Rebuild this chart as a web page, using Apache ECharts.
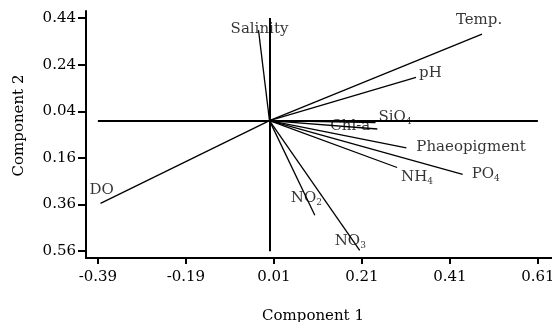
<!DOCTYPE html>
<html><head><meta charset="utf-8">
<script src="https://cdn.jsdelivr.net/npm/echarts@6/dist/echarts.min.js"></script>
<style>html,body{margin:0;padding:0;background:#fff}#c{width:552px;height:322px}</style>
</head><body><div id="c"></div>
<script>
// ---- data ----
const variables = ['Temp.', 'pH', 'SiO4', 'Chl-a', 'Phaeopigment', 'NH4', 'PO4', 'NO2', 'NO3', 'DO', 'Salinity'];
const comp1 = [0.483, 0.333, 0.241, 0.245, 0.311, 0.290, 0.439, 0.103, 0.205, -0.384, -0.025];
const comp2 = [0.371, 0.185, -0.009, -0.036, -0.117, -0.201, -0.230, -0.406, -0.556, -0.355, 0.388];
const xTicks = [-0.39, -0.19, 0.01, 0.21, 0.41, 0.61];
const yTicks = [-0.56, -0.36, -0.16, 0.04, 0.24, 0.44];
const xName = 'Component 1';
const yName = 'Component 2';

// ---- label placement (style only, pixels) ----
const labelPlace = {
  'Temp.': ['center', -3, -14],
  'pH': ['left', 3, -4],
  'SiO4': ['left', 3, -6],
  'Chl-a': ['right', -7, -3],
  'Phaeopigment': ['left', 10, -1],
  'NH4': ['left', 4, 10],
  'PO4': ['left', 9, 0],
  'NO2': ['left', -24, -17],
  'NO3': ['left', -25, -9],
  'DO': ['left', -11, -13],
  'Salinity': ['center', 1, -1]
};

const FONT = '"DejaVu Serif", "Liberation Serif", serif';
const FS = 15;

const vectorLines = variables.map((n, i) => ({ coords: [[0, 0], [comp1[i], comp2[i]]] }));
const crossLines = [
  { coords: [[xTicks[0], 0], [xTicks[xTicks.length - 1], 0]] },
  { coords: [[0, yTicks[0]], [0, yTicks[yTicks.length - 1]]] }
];
const labelPoints = variables.map((n, i) => {
  const p = labelPlace[n];
  return {
    name: n,
    value: [comp1[i], comp2[i]],
    label: { align: p[0], offset: [p[1], p[2]] }
  };
});

const chart = echarts.init(document.getElementById('c'), null, { renderer: 'canvas' });
chart.setOption({
  animation: false,
  backgroundColor: '#fff',
  grid: { left: 86, top: 11, right: 0, bottom: 64, containLabel: false, outerBoundsMode: 'none' },
  xAxis: {
    type: 'value', min: -0.417, max: 0.642,
    splitLine: { show: false },
    axisLine: { onZero: false, lineStyle: { color: '#000', width: 2 } },
    axisTick: { customValues: xTicks, length: 6, lineStyle: { color: '#000', width: 2 } },
    axisLabel: { customValues: xTicks, formatter: v => v.toFixed(2), margin: 12,
      color: '#000', fontFamily: FONT, fontSize: FS, hideOverlap: false }
  },
  yAxis: {
    type: 'value', min: -0.589, max: 0.47,
    splitLine: { show: false },
    axisLine: { onZero: false, lineStyle: { color: '#000', width: 2 } },
    axisTick: { customValues: yTicks, length: 8, lineStyle: { color: '#000', width: 2 } },
    axisLabel: { customValues: yTicks, formatter: v => Math.abs(v).toFixed(2), margin: 10,
      color: '#000', fontFamily: FONT, fontSize: FS }
  },
  series: [
    {
      type: 'lines', coordinateSystem: 'cartesian2d', silent: true,
      lineStyle: { color: '#000', width: 2, opacity: 1 },
      data: crossLines
    },
    {
      type: 'lines', coordinateSystem: 'cartesian2d', silent: true,
      lineStyle: { color: '#000', width: 1.3, opacity: 1 },
      data: vectorLines
    },
    {
      type: 'scatter', symbolSize: 1, itemStyle: { color: 'rgba(0,0,0,0)' }, silent: true,
      label: {
        show: true, position: 'inside', verticalAlign: 'middle',
        color: '#000', fontFamily: FONT, fontSize: FS, lineHeight: 18,
        formatter: p => p.name.replace(/(\d)$/, '{s|$1}'),
        rich: { s: { fontFamily: FONT, fontSize: 9, lineHeight: 10, verticalAlign: 'bottom', color: '#000' } }
      },
      data: labelPoints
    }
  ],
  graphic: [
    { type: 'text', x: 313, y: 316, silent: true,
      style: { text: xName, textAlign: 'center', textVerticalAlign: 'middle', fill: '#000',
        font: FS + 'px ' + FONT } },
    { type: 'text', x: 19.5, y: 125.5, rotation: Math.PI / 2, silent: true,
      style: { text: yName, textAlign: 'center', textVerticalAlign: 'middle', fill: '#000',
        font: FS + 'px ' + FONT } }
  ]
});
</script>
</body></html>
